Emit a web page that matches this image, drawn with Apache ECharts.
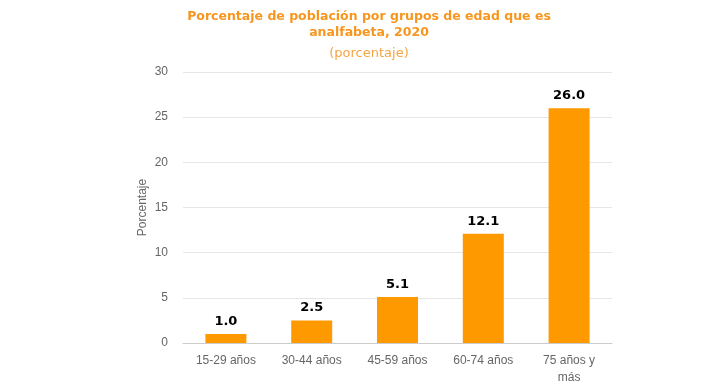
<!DOCTYPE html>
<html><head><meta charset="utf-8">
<script src="https://cdn.jsdelivr.net/npm/echarts@6/dist/echarts.min.js"></script>
<style>html,body{margin:0;padding:0;background:#fff}#c{width:719px;height:386px}</style>
</head><body><div id="c"></div>
<script>
const categories = ['15-29 años','30-44 años','45-59 años','60-74 años','75 años y\nmás'];
const values = [1.0, 2.5, 5.1, 12.1, 26.0];
const yTicks = {min:0, max:30, interval:5};

const chart = echarts.init(document.getElementById('c'));
chart.setOption({
  animation:false,
  title:{
    text:'Porcentaje de población por grupos de edad que es\nanalfabeta, 2020',
    subtext:'(porcentaje)',
    left:364, top:4, itemGap:6, textAlign:'center',
    textStyle:{fontFamily:'DejaVu Sans', fontWeight:'bold', fontSize:12.5, color:'#F7961E', lineHeight:16},
    subtextStyle:{fontFamily:'DejaVu Sans', fontSize:13, color:'#F5A444'}
  },
  grid:{left:183, right:107, top:72, bottom:41},
  xAxis:{type:'category', data:categories,
    axisLine:{lineStyle:{color:'#ccc'}}, axisTick:{show:false},
    axisLabel:{color:'#666', fontSize:12, fontFamily:'Liberation Sans', margin:9, lineHeight:17}},
  yAxis:{type:'value', min:yTicks.min, max:yTicks.max, interval:yTicks.interval,
    name:'Porcentaje', nameLocation:'middle', nameGap:34, nameMoveOverlap:false,
    nameTextStyle:{color:'#666', fontSize:12, fontFamily:'Liberation Sans'},
    axisLabel:{color:'#666', fontSize:12, fontFamily:'Liberation Sans', margin:15},
    splitLine:{lineStyle:{color:'#e6e6e6'}}},
  series:[{type:'bar', data:values, barWidth:41, itemStyle:{color:'#FF9900'},
    label:{show:true, position:'top', distance:6, formatter:p=>p.value.toFixed(1),
      fontFamily:'DejaVu Sans', fontWeight:'bold', fontSize:13, color:'#000'}}]
});
</script></body></html>
